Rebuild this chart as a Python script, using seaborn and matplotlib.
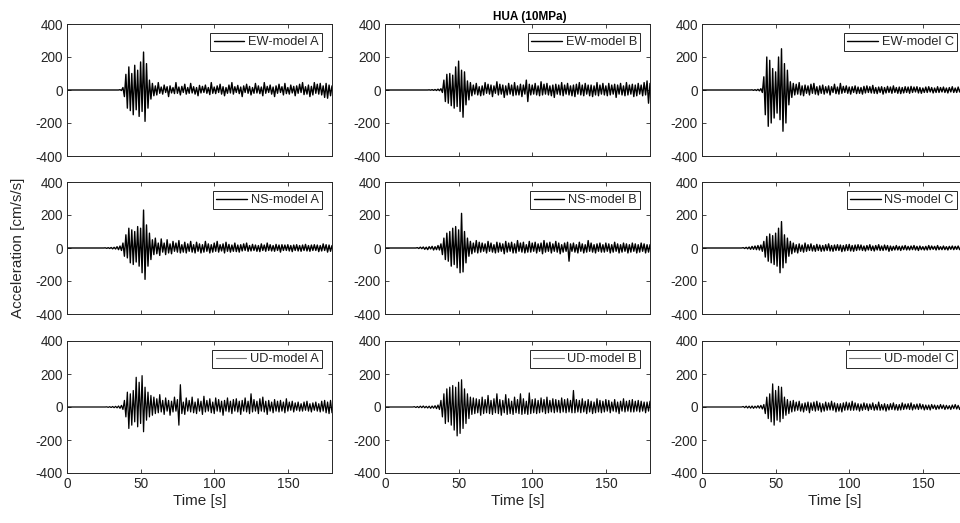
import numpy as np
import pandas as pd
import matplotlib
matplotlib.use("Agg")
import matplotlib.pyplot as plt
import seaborn as sns

# ---------------- data (1 s samples, t = 0..180 s) ----------------
ew_a = [0] * 36 + [
    2, -3, 15, -40, 95, -110, 140, -125, 100, -150,
    150, -120, 120, -160, 170, -130, 230, -190, 160, -110,
    60, -55, 40, -35, 25, -30, 45, -20, 18, -25,
    30, -15, 20, -40, 25, -18, 15, -22, 45, -20,
    18, -30, 22, -15, 35, -25, 15, -20, 40, -18,
    20, -25, 15, -35, 28, -18, 22, -15, 30, -20,
    15, -28, 45, -20, 18, -22, 25, -15, 35, -25,
    20, -35, 15, -20, 30, -18, 45, -25, 20, -15,
    28, -22, 18, -40, 25, -15, 35, -20, 22, -30,
    15, -20, 40, -18, 25, -22, 18, -35, 45, -20,
    22, -15, 30, -25, 18, -40, 25, -20, 35, -15,
    20, -30, 40, -22, 15, -25, 30, -18, 22, -35,
    25, -20, 35, -15, 45, -28, 20, -25, 30, -40,
    22, -30, 45, -20, 35, -25, 40, -30, 25, -45,
    40, -50, 30, -35, 25]

ew_b = [0] * 30 + [
    1, -1, 2, -2, 3, -3, 5, -4, 8, -15,
    60, -70, 95, -80, 100, -95, 90, -110, 140, -100,
    175, -130, 120, -165, 110, -90, 55, -60, 45, -35,
    30, -25, 40, -30, 20, -35, 25, -30, 45, -20,
    35, -25, 30, -40, 25, -20, 50, -30, 35, -25,
    30, -45, 25, -30, 40, -25, 30, -35, 45, -30,
    25, -30, 35, -40, 30, -25, 60, -70, 35, -30,
    30, -25, 40, -30, 25, -35, 50, -30, 35, -25,
    40, -30, 25, -35, 30, -45, 35, -25, 30, -30,
    45, -35, 30, -25, 40, -30, 25, -35, 30, -40,
    35, -25, 45, -30, 30, -35, 40, -25, 30, -35,
    30, -40, 25, -30, 45, -35, 30, -25, 40, -30,
    25, -35, 40, -30, 30, -25, 35, -45, 30, -25,
    40, -30, 25, -35, 45, -30, 30, -25, 35, -40,
    30, -35, 40, -25, 30, -35, 45, -30, 55, -80,
    40]

ew_c = [0] * 34 + [
    1, -2, 2, -3, 4, -5, 8, -15,
    80, -150, 200, -220, 180, -200, 130, -170, 110, -140,
    200, -180, 250, -250, 160, -200, 120, -90, 50, -45,
    40, -30, 35, -25, 45, -30, 25, -35, 30, -20,
    25, -30, 35, -20, 40, -25, 20, -30, 25, -20,
    30, -25, 20, -18, 25, -30, 20, -15, 35, -22,
    18, -25, 40, -20, 22, -15, 25, -20, 18, -25,
    20, -15, 25, -22, 18, -20, 15, -25, 22, -18,
    25, -15, 20, -18, 28, -20, 15, -22, 18, -15,
    20, -25, 15, -18, 22, -15, 18, -20, 25, -15,
    15, -20, 18, -22, 15, -18, 20, -15, 18, -20,
    22, -15, 18, -12, 20, -18, 15, -20, 12, -15,
    18, -15, 20, -12, 15, -18, 12, -15, 20, -15,
    15, -12, 18, -15, 12, -18, 15, -12, 20, -15,
    12, -15, 18, -12, 15, -18, 12, -15, 10]

ns_a = [0] * 26 + [
    1, -2, 2, -3, 3, -5, 4, -6, 8, -10, 12, -15,
    30, -50, 80, -60, 120, -90, 110, -100, 100, -85,
    130, -110, 120, -150, 230, -190, 140, -110, 90, -70,
    50, -40, 60, -35, 30, -45, 55, -25, 30, -40,
    50, -30, 25, -35, 40, -20, 30, -25, 45, -30,
    20, -25, 35, -30, 25, -20, 40, -25, 20, -30,
    35, -20, 25, -30, 20, -25, 40, -20, 25, -30,
    20, -25, 30, -20, 40, -25, 20, -18, 25, -30,
    35, -20, 22, -25, 18, -20, 30, -22, 18, -25,
    20, -18, 25, -15, 30, -20, 15, -18, 22, -15,
    18, -20, 15, -22, 25, -15, 18, -20, 30, -15,
    20, -18, 15, -20, 22, -15, 18, -25, 20, -15,
    18, -15, 20, -18, 15, -22, 18, -15, 20, -18,
    15, -20, 18, -15, 22, -18, 15, -20, 18, -15,
    20, -15, 18, -22, 15, -18, 25, -15, 20, -25,
    18, -20, 15]

ns_b = [0] * 22 + [
    2, -3, 5, -4, 6, -8, 5, -10, 8, -6, 10, -12, 8, -10, 15, -12,
    25, -40, 60, -70, 90, -80, 100, -110, 120, -100,
    130, -120, 110, -150, 210, -145, 100, -90, 60, -50,
    40, -35, 30, -25, 45, -30, 35, -25, 30, -20,
    25, -30, 40, -20, 30, -25, 20, -30, 35, -25,
    30, -20, 25, -35, 40, -25, 30, -20, 35, -30,
    25, -30, 45, -20, 30, -25, 35, -30, 20, -25,
    40, -25, 30, -20, 35, -30, 25, -20, 30, -35,
    45, -25, 30, -20, 35, -30, 25, -20, 40, -25,
    30, -35, 20, -25, 30, -20, 35, -80, 25, -20,
    30, -25, 20, -30, 35, -20, 25, -30, 20, -25,
    45, -20, 30, -25, 20, -30, 25, -20, 30, -25,
    20, -25, 30, -20, 25, -30, 20, -25, 35, -20,
    25, -30, 20, -25, 30, -20, 25, -30, 20, -25,
    30, -20, 25, -30, 20, -25, 30, -20, 25, -30,
    20, -25, 20]

ns_c = [0] * 28 + [
    2, -3, 4, -5, 6, -8, 10, -8, 12, -10, 15, -12, 18, -20,
    40, -55, 70, -80, 85, -90, 75, -100, 90, -110,
    120, -150, 160, -120, 80, -90, 60, -50, 40, -35,
    30, -25, 20, -30, 25, -20, 18, -25, 30, -20,
    20, -15, 25, -18, 15, -20, 22, -15, 18, -20,
    15, -18, 20, -15, 25, -18, 15, -20, 18, -15,
    20, -15, 18, -22, 15, -18, 20, -15, 22, -18,
    15, -20, 18, -15, 20, -12, 18, -15, 12, -18,
    15, -12, 20, -15, 12, -18, 15, -12, 20, -15,
    12, -15, 18, -12, 15, -20, 12, -15, 10, -12,
    15, -12, 10, -15, 12, -10, 15, -12, 10, -12,
    12, -10, 15, -12, 10, -15, 12, -10, 8, -12,
    10, -12, 15, -10, 12, -8, 10, -12, 15, -10,
    8, -10, 12, -10, 8, -12, 10, -8, 12, -10,
    10, -8, 12, -10, 8, -10, 12, -8, 10]

ud_a = [0] * 27 + [
    1, -2, 2, -3, 3, -4, 4, -5, 6, -8, 10, -15,
    40, -60, 90, -130, 80, -110, 100, -90, 180, -120,
    150, -100, 190, -150, 120, -80, 90, -60, 70, -50,
    60, -40, 50, -35, 75, -30, 40, -45, 55, -25,
    40, -50, 35, -30, 60, -25, 45, -110, 135, -40,
    30, -45, 55, -25, 40, -30, 60, -35, 30, -40,
    50, -25, 35, -45, 65, -30, 40, -25, 50, -35,
    30, -40, 55, -25, 45, -30, 35, -50, 40, -25,
    55, -30, 35, -40, 45, -25, 50, -30, 35, -45,
    40, -25, 55, -30, 35, -40, 80, -30, 45, -25,
    35, -40, 50, -25, 60, -30, 35, -45, 40, -25,
    30, -35, 45, -25, 35, -30, 40, -25, 30, -35,
    50, -25, 30, -20, 35, -30, 25, -20, 30, -25,
    20, -25, 30, -20, 35, -25, 20, -30, 25, -20,
    30, -25, 20, -30, 35, -25, 40, -35, 30, -40,
    40, -35]

ud_b = [0] * 20 + [
    2, -3, 3, -4, 5, -4, 6, -5, 4, -6, 5, -8, 6, -7, 8, -10, 12, -15,
    40, -60, 80, -100, 110, -90, 120, -110, 130, -140,
    120, -175, 150, -160, 165, -130, 110, -100, 80, -70,
    60, -45, 55, -40, 50, -35, 45, -50, 60, -40,
    45, -35, 70, -40, 40, -45, 50, -35, 80, -40,
    45, -50, 40, -35, 75, -45, 50, -40, 35, -45,
    60, -35, 45, -40, 80, -45, 50, -40, 35, -45,
    85, -40, 45, -35, 50, -40, 40, -35, 55, -30,
    45, -40, 60, -35, 40, -30, 50, -35, 45, -30,
    40, -35, 55, -30, 45, -35, 50, -30, 40, -35,
    100, -35, 45, -30, 40, -35, 50, -30, 35, -40,
    45, -30, 35, -40, 30, -35, 50, -30, 40, -35,
    35, -30, 45, -25, 40, -35, 30, -25, 45, -30,
    30, -40, 35, -25, 50, -30, 35, -25, 40, -30,
    45, -30, 35, -25, 40, -30, 35, -25, 30, -35,
    30, -25, 35]

ud_c = [0] * 28 + [
    3, -4, 5, -6, 5, -7, 6, -8, 5, -6, 8, -7, 10, -12, 15,
    -40, 60, -70, 80, -90, 140, -110, 100, -80, 125,
    -90, 120, -70, 60, -50, 45, -40, 35, -30, 40,
    -25, 30, -20, 35, -25, 20, -30, 25, -20, 30,
    -35, 25, -20, 30, -25, 35, -20, 25, -30, 20,
    -25, 30, -20, 25, -18, 35, -20, 25, -30, 20,
    -25, 20, -30, 25, -20, 30, -18, 25, -20, 35,
    -20, 25, -18, 20, -25, 18, -20, 25, -15, 20,
    -22, 18, -15, 25, -20, 15, -18, 30, -20, 15,
    -18, 20, -25, 15, -18, 20, -15, 25, -18, 15,
    -20, 15, -18, 25, -15, 18, -12, 20, -15, 25,
    -18, 15, -12, 18, -15, 20, -12, 15, -18, 12,
    -15, 12, -18, 15, -10, 12, -15, 10, -12, 15,
    -10, 12, -15, 10, -12, 8, -15, 12, -10, 15,
    -12, 10, -15, 8, -12, 10, -8, 12]

components = ["EW", "NS", "UD"]
models = ["A", "B", "C"]
series = {
    ("EW", "A"): ew_a, ("EW", "B"): ew_b, ("EW", "C"): ew_c,
    ("NS", "A"): ns_a, ("NS", "B"): ns_b, ("NS", "C"): ns_c,
    ("UD", "A"): ud_a, ("UD", "B"): ud_b, ("UD", "C"): ud_c,
}
x_ticks = [0, 50, 100, 150]
y_ticks = [-400, -200, 0, 200, 400]

# ---------------- style ----------------
sns.set_theme(style="ticks")
plt.rcParams["font.family"] = ["Liberation Sans", "DejaVu Sans"]
plt.rcParams["axes.unicode_minus"] = False
dark = "#262626"

fig = plt.figure(figsize=(9.6, 5.23), dpi=100)

col_left = [67 / 960, 385 / 960, 702 / 960]
col_w = 265 / 960
row_bottom = [1 - 156 / 523, 1 - 314 / 523, 1 - 473 / 523]
row_h = 132 / 523

for r, comp in enumerate(components):
    for c, mod in enumerate(models):
        vals = series[(comp, mod)]
        df = pd.DataFrame({"time": np.arange(len(vals)), "acc": vals})
        ax = fig.add_axes([col_left[c], row_bottom[r], col_w, row_h])
        lw = 0.9 if comp == "UD" else 1.0
        sns.lineplot(data=df, x="time", y="acc", ax=ax, color="black",
                     linewidth=lw, estimator=None, sort=False,
                     label=f"{comp}-model {mod}")
        ax.set_xlim(0, 180)
        ax.set_ylim(-400, 400)
        ax.set_xticks(x_ticks)
        ax.set_yticks(y_ticks)
        ax.set_xlabel("")
        ax.set_ylabel("")
        ax.tick_params(direction="in", top=True, right=True, length=3,
                       width=0.6, labelsize=9.8, colors=dark,
                       labelbottom=(r == 2), pad=3)
        for sp in ax.spines.values():
            sp.set_visible(True)
            sp.set_color(dark)
            sp.set_linewidth(0.7)
        leg = ax.legend(loc="upper right",
                        bbox_to_anchor=(1 - 10 / 265, 1 - 9 / 132),
                        borderaxespad=0, fontsize=9.2, frameon=True,
                        fancybox=False, edgecolor=dark, framealpha=1,
                        handlelength=2.4, handletextpad=0.3,
                        borderpad=0.25)
        leg.get_frame().set_linewidth(0.7)
        if comp == "UD":
            leg.get_lines()[0].set_color("#707070")
            leg.get_lines()[0].set_linewidth(0.8)
        else:
            leg.get_lines()[0].set_linewidth(1.0)
        for t in leg.get_texts():
            t.set_color(dark)
        if r == 2:
            ax.set_xlabel("Time [s]", fontsize=11, color=dark, labelpad=2)

fig.text(18 / 960, 1 - 248 / 523, "Acceleration [cm/s/s]", rotation=90,
         ha="center", va="center", fontsize=11, color=dark)
fig.text(530 / 960, 1 - 17 / 523, "HUA (10MPa)", ha="center", va="center",
         fontsize=8.5, fontweight="bold", color="black")

fig.savefig("out.png", dpi=100)
